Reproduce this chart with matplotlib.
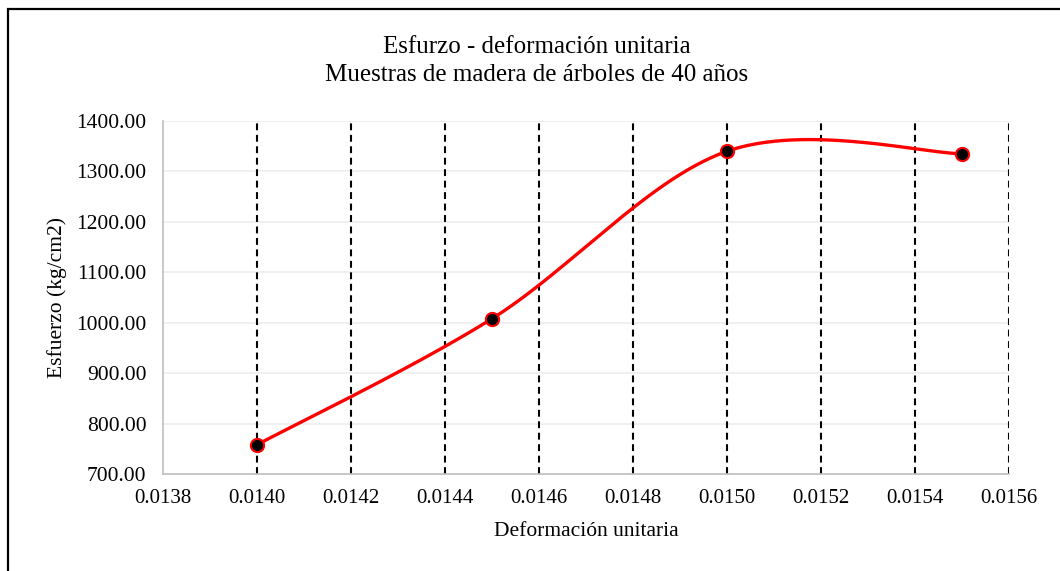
import numpy as np
import matplotlib
matplotlib.use("Agg")
import matplotlib.pyplot as plt
from matplotlib.patches import Rectangle

# Data
deformacion = [0.0140, 0.0145, 0.0150, 0.0155]
esfuerzo = [758.0, 1008.0, 1340.0, 1335.0]
x_ticks = [0.0138, 0.0140, 0.0142, 0.0144, 0.0146, 0.0148, 0.0150, 0.0152, 0.0154, 0.0156]
y_ticks = [700, 800, 900, 1000, 1100, 1200, 1300, 1400]
title = "Esfurzo - deformación unitaria\nMuestras de madera de árboles de 40 años"
xlabel = "Deformación unitaria"
ylabel = "Esfuerzo (kg/cm2)"

plt.rcParams['font.family'] = ['Liberation Serif', 'DejaVu Serif']

W, H = 1060, 571
fig = plt.figure(figsize=(W / 100, H / 100), dpi=100)
ax = fig.add_axes([163 / W, 1 - 474 / H, (1009 - 163) / W, (474 - 121) / H])

xmin, xmax = x_ticks[0], x_ticks[-1]
ymin, ymax = y_ticks[0], y_ticks[-1]
ax.set_xlim(xmin, xmax)
ax.set_ylim(ymin, ymax)


def excel_smooth(xs, ys, n=60):
    # Catmull-Rom style Bezier smoothing in screen-proportional space
    sx = (xmax - xmin) / 846.0
    sy = (ymax - ymin) / 353.0
    P = np.column_stack([(np.array(xs) - xmin) / sx, (np.array(ys) - ymin) / sy])
    m = len(P)
    out = []
    for i in range(m - 1):
        p0 = P[i - 1] if i > 0 else P[i]
        p1 = P[i]
        p2 = P[i + 1]
        p3 = P[i + 2] if i + 2 < m else P[i + 1]
        c1 = p1 + (p2 - p0) / 6.0
        c2 = p2 - (p3 - p1) / 6.0
        t = np.linspace(0, 1, n)[:, None]
        seg = ((1 - t) ** 3) * p1 + 3 * ((1 - t) ** 2) * t * c1 + 3 * (1 - t) * t ** 2 * c2 + t ** 3 * p2
        out.append(seg if i == 0 else seg[1:])
    pts = np.vstack(out)
    return pts[:, 0] * sx + xmin, pts[:, 1] * sy + ymin


cx, cy = excel_smooth(deformacion, esfuerzo)

# Horizontal gridlines
ax.set_yticks(y_ticks)
ax.set_xticks(x_ticks)
ax.yaxis.grid(True, color='#EDEDED', linewidth=1.2)
ax.set_axisbelow(True)

# Vertical dashed lines at x ticks (except axis edge)
for xv in x_ticks[1:]:
    ax.axvline(xv, color='black', linewidth=1.5, linestyle=(0, (3.3, 2.2)), zorder=1)

ax.plot(cx, cy, color='#FF0000', linewidth=2.4, zorder=3, solid_capstyle='round')
ax.plot(deformacion, esfuerzo, linestyle='none', marker='o', markersize=9.5,
        markerfacecolor='black', markeredgecolor='#FF0000', markeredgewidth=1.5, zorder=4)

for s in ['top', 'right']:
    ax.spines[s].set_visible(False)
for s in ['left', 'bottom']:
    ax.spines[s].set_color('#BFBFBF')
    ax.spines[s].set_linewidth(1.2)

ax.tick_params(axis='both', length=0, colors='black')
ax.tick_params(axis='x', pad=11, labelsize=15)
ax.tick_params(axis='y', pad=12, labelsize=15.5)
ax.set_xticklabels([f"{v:.4f}" for v in x_ticks])
ax.set_yticklabels([f"{v:.2f}" for v in y_ticks])

fig.text(537 / W, 1 - 61 / H, title, ha='center', va='center',
         fontsize=18, linespacing=1.36)
fig.text((163 + 1009) / 2 / W, 1 - 532 / H, xlabel, ha='center', va='center', fontsize=15.5)
fig.text(57 / W, 1 - 297 / H, ylabel, ha='center', va='center', rotation=90, fontsize=15.5)

# Outer chart border (left/top edges visible)
fig.patches.append(Rectangle((8 / W, -0.1), 1.2, 1 - 9 / H + 0.1, transform=fig.transFigure,
                             fill=False, edgecolor='black', linewidth=1.6))

fig.savefig("out.png", dpi=100)
